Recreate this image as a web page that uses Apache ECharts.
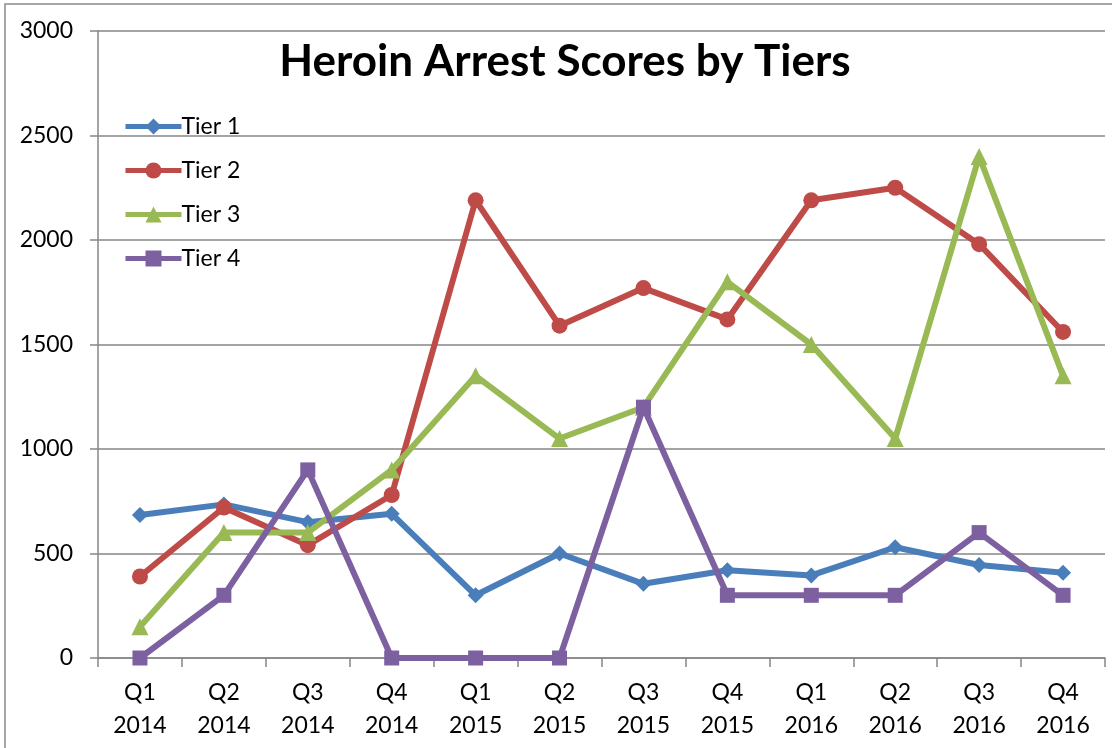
<!DOCTYPE html>
<html><head><meta charset="utf-8">
<script src="https://cdn.jsdelivr.net/npm/echarts@6/dist/echarts.min.js"></script>
<style>html,body{margin:0;padding:0;background:#fff}#c{width:1112px;height:748px}</style>
</head><body><div id="c"></div>
<script>
const categories = ["Q1\n2014","Q2\n2014","Q3\n2014","Q4\n2014","Q1\n2015","Q2\n2015","Q3\n2015","Q4\n2015","Q1\n2016","Q2\n2016","Q3\n2016","Q4\n2016"];
const tier1 = [684, 735, 650, 690, 300, 500, 355, 420, 395, 530, 445, 408];
const tier2 = [390, 720, 540, 780, 2190, 1590, 1770, 1620, 2190, 2250, 1980, 1560];
const tier3 = [150, 600, 600, 900, 1350, 1050, 1200, 1800, 1500, 1050, 2400, 1350];
const tier4 = [0, 300, 900, 0, 0, 0, 1200, 300, 300, 300, 600, 300];
const seriesNames = ["Tier 1","Tier 2","Tier 3","Tier 4"];
const colors = ["#4A7EBB","#BE4B48","#98B954","#7D60A0"];
const symbols = ["diamond","circle","triangle","rect"];
const symbolSizes = [16, 16, 17, 15];
const font = "Lato, 'Open Sans', sans-serif";

const chart = echarts.init(document.getElementById('c'));
const dataSets = [tier1, tier2, tier3, tier4];
chart.setOption({
  animation: false,
  title: {text: "Heroin Arrest Scores by Tiers", left: 560, top: 35, textAlign: 'center',
    textStyle: {fontFamily: font, fontSize: 44, fontWeight: 'bold', color: '#000'}},
  legend: {orient: 'vertical', left: 118, top: 110, itemGap: 21, itemWidth: 56, itemHeight: 20,
    lineStyle: {width: 5},
    textStyle: {fontFamily: font, fontSize: 23, lineHeight: 20, color: '#000', padding: [0,0,0,-5]},
    data: seriesNames},
  grid: {left: 98, right: 7, top: 31, bottom: 90},
  xAxis: {type: 'category', data: categories, boundaryGap: true,
    axisLine: {lineStyle: {color: '#868686', width: 1.5}},
    axisTick: {show: true, length: 9, lineStyle: {color: '#868686', width: 1.5}},
    axisLabel: {fontFamily: font, fontSize: 23, color: '#000', lineHeight: 33, margin: 18}},
  yAxis: {type: 'value', min: 0, max: 3000, interval: 500,
    axisLine: {show: true, lineStyle: {color: '#868686', width: 1.5}},
    axisTick: {show: true, inside: false, length: 8, lineStyle: {color: '#868686', width: 1.5}},
    splitLine: {lineStyle: {color: '#868686', width: 1.5}},
    axisLabel: {fontFamily: font, fontSize: 23, color: '#000', margin: 25, formatter: v => String(v)}},
  graphic: [{type: 'rect', shape: {x: 5, y: 4, width: 1130, height: 780},
    style: {fill: 'none', stroke: '#8a8a8a', lineWidth: 1.5}, silent: true, z: -1}],
  series: dataSets.map((d, i) => ({
    name: seriesNames[i], type: 'line', data: d,
    symbol: symbols[i], symbolSize: symbolSizes[i],
    lineStyle: {color: colors[i], width: 6},
    itemStyle: {color: colors[i]},
    z: 2 + i
  }))
});
</script></body></html>
